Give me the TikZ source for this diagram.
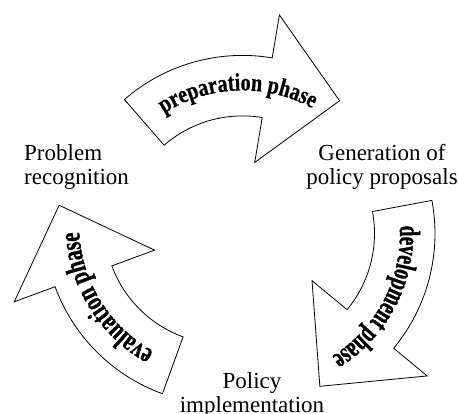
\documentclass[tikz,border=0pt]{standalone}
\usepackage{fontspec}
\setmainfont{Liberation Serif}
\newfontfamily\prepfont[FakeStretch=0.8,FakeBold=0.6]{Liberation Serif}
\newfontfamily\devfont[FakeStretch=0.654,FakeBold=1.2]{Liberation Serif}
\newfontfamily\evalfont[FakeStretch=0.71,FakeBold=1.1]{Liberation Serif}
\usetikzlibrary{calc,decorations.text}
\newcommand\prepstyle{\prepfont\bfseries\fontsize{25}{25}\selectfont}
\newcommand\devstyle{\devfont\bfseries\fontsize{29}{29}\selectfont}
\newcommand\evalstyle{\evalfont\bfseries\fontsize{29}{29}\selectfont}
\tikzset{
  phaseshape/.style={draw=black, line width=0.8pt, line join=miter, fill=white},
  stagelabel/.style={font=\fontsize{23}{24}\selectfont, inner sep=0pt, align=center},
}
% #1 centre, #2 tail angle, #3 head-base angle, #4 tip angle
\newcommand\phasearrow[4]{%
  \draw[phaseshape] ($(#1)+(#2:180)$) arc[start angle=#2, end angle=#3, radius=180]
    -- ($(#1)+(#3:223.5)$) -- ($(#1)+(#4:166)$) -- ($(#1)+(#3:74)$)
    -- ($(#1)+(#3:119.5)$) arc[start angle=#3, end angle=#2, radius=119.5] -- cycle;}
\begin{document}
\begin{tikzpicture}[x=1pt,y=1pt]
\useasboundingbox (0,0) rectangle (458,414);
\coordinate (C1) at (242.5,178.6);
\coordinate (C2) at (255,180.5);
\coordinate (C3) at (224,189.4);

\phasearrow{C1}{131}{80.5}{54.2}
\phasearrow{C2}{10.6}{-39.6}{-67}
\phasearrow{C3}{-110}{-159.8}{-186.7}

\path[decorate, decoration={text along path, text={|\prepstyle|preparation phase}, text align=center}]
  ($(C1)+(127:145)$) arc[start angle=127, end angle=57, radius=145];
\path[decorate, decoration={text along path, text={|\devstyle|development phase}, text align=center}]
  ($(C2)+(7.5:145)$) arc[start angle=7.5, end angle=-62.5, radius=145];
\path[decorate, decoration={text along path, text={|\evalstyle|evaluation phase}, text align=center}]
  ($(C3)+(-113:145)$) arc[start angle=-113, end angle=-183, radius=145];

\node[stagelabel, align=left, anchor=west] (problem) at (24,247.35) {Problem\\recognition};
\node[stagelabel] (generation) at (382,247.35) {Generation of\\policy proposals};
\node[stagelabel] (implementation) at (252,19.35) {Policy\\implementation};
\end{tikzpicture}
\end{document}
